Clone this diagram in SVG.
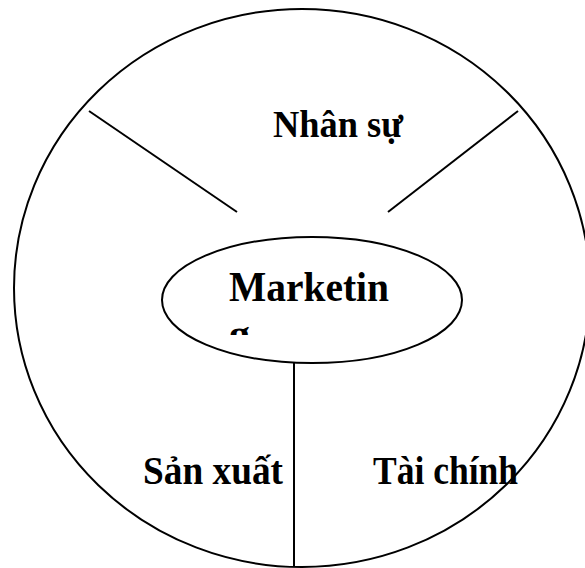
<svg xmlns="http://www.w3.org/2000/svg" width="585" height="568" viewBox="0 0 585 568">
  <style>
    .ln { stroke: #000; stroke-width: 2; fill: none; }
    .lbl { font-family: "Liberation Serif", "Times New Roman", serif; font-weight: bold; fill: #000; }
  </style>
  <defs>
    <clipPath id="clipM"><rect x="160" y="240" width="300" height="95"/></clipPath>
  </defs>
  <rect width="585" height="568" fill="#fff"/>
  <g id="outer">
    <ellipse class="ln" cx="302" cy="288" rx="288" ry="279"/>
  </g>
  <g id="connectors">
    <line class="ln" x1="89" y1="111" x2="237" y2="212"/>
    <line class="ln" x1="518" y1="111" x2="388" y2="212"/>
    <line class="ln" x1="294" y1="362" x2="294" y2="567"/>
  </g>
  <g id="nhan-su">
    <text class="lbl" x="273" y="137" font-size="37" textLength="130" lengthAdjust="spacingAndGlyphs">Nhân sự</text>
  </g>
  <g id="marketing">
    <ellipse class="ln" cx="312" cy="300" rx="150" ry="63" fill="#fff"/>
    <g clip-path="url(#clipM)">
      <text class="lbl" x="229" y="301" font-size="42" textLength="160" lengthAdjust="spacingAndGlyphs">Marketin</text>
      <text class="lbl" x="229" y="348" font-size="42">g</text>
    </g>
  </g>
  <g id="san-xuat">
    <text class="lbl" x="143" y="484" font-size="40" textLength="140" lengthAdjust="spacingAndGlyphs">Sản xuất</text>
  </g>
  <g id="tai-chinh">
    <text class="lbl" x="373" y="484" font-size="40" textLength="145" lengthAdjust="spacingAndGlyphs">Tài chính</text>
  </g>
</svg>
